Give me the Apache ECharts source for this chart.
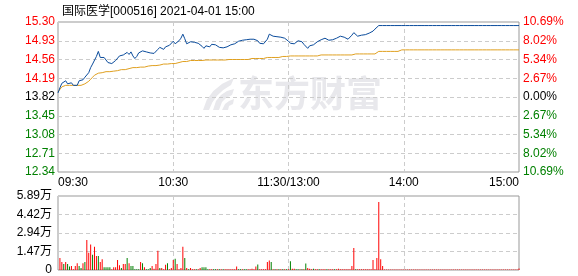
<!DOCTYPE html>
<html><head><meta charset="utf-8">
<script src="https://cdn.jsdelivr.net/npm/echarts@6/dist/echarts.min.js"></script>
<style>html,body{margin:0;padding:0;background:#fff}#c{width:578px;height:276px}</style>
</head><body><div id="c"></div>
<script>
const titleText = '国际医学[000516] 2021-04-01 15:00';
const baseClose = 13.82;
const timeTickLabels = ['09:30', '10:30', '11:30/13:00', '14:00', '15:00'];
const priceTickLabels = ['12.34', '12.71', '13.08', '13.45', '13.82', '14.19', '14.56', '14.93', '15.30'];
const pctTickLabels = ['10.69%', '8.02%', '5.34%', '2.67%', '0.00%', '2.67%', '5.34%', '8.02%', '10.69%'];
const volTickLabels = ['0', '1.47万', '2.94万', '4.42万', '5.89万'];

const price = [
13.90,14.00,14.09,14.10,14.14,14.08,14.10,14.10,14.05,14.04,
14.05,14.14,14.11,14.16,14.21,14.18,14.30,14.40,14.47,14.50,
14.62,14.72,14.60,14.58,14.60,14.55,14.50,14.49,14.48,14.48,
14.54,14.55,14.63,14.65,14.65,14.67,14.70,14.66,14.71,14.63,
14.58,14.62,14.69,14.68,14.73,14.70,14.71,14.70,14.69,14.67,
14.68,14.69,14.76,14.80,14.80,14.76,14.81,14.81,14.84,14.87,
14.92,14.87,14.89,14.93,14.98,15.06,14.97,14.87,14.85,14.91,
14.93,14.90,14.90,14.88,14.85,14.82,14.78,14.83,14.83,14.81,
14.86,14.87,14.85,14.82,14.80,14.78,14.79,14.80,14.81,14.83,
14.85,14.85,14.87,14.88,14.92,14.91,14.94,14.96,14.95,14.96,
14.96,14.96,14.96,14.96,14.93,14.88,14.87,14.87,14.90,14.96,
15.06,15.04,15.02,15.02,15.01,15.01,15.00,15.00,14.98,14.96,
14.92,14.88,14.91,14.87,14.89,14.93,14.93,14.91,14.86,14.83,
14.78,14.83,14.85,14.85,14.87,14.91,14.93,14.95,14.98,14.98,
14.97,14.94,14.93,14.95,14.98,14.98,15.00,15.02,15.01,15.00,
14.98,14.96,14.98,15.04,15.09,15.06,15.02,15.02,15.04,15.05,
15.05,15.06,15.08,15.11,15.12,15.16,15.18,15.23,15.23,15.23,
15.23,15.23,15.23,15.23,15.23,15.23,15.23,15.23,15.23,15.23,
15.23,15.23,15.23,15.23,15.23,15.23,15.23,15.23,15.23,15.23,
15.23,15.23,15.23,15.23,15.23,15.23,15.23,15.23,15.23,15.23,
15.23,15.23,15.23,15.23,15.23,15.23,15.23,15.23,15.23,15.23,
15.23,15.23,15.23,15.23,15.23,15.23,15.23,15.23,15.23,15.23,
15.23,15.23,15.23,15.23,15.23,15.23,15.23,15.23,15.23,15.23,
15.23,15.23,15.23,15.23,15.23,15.23,15.23,15.23,15.23,15.23,
15.23
];

const avgPrice = [
13.92,13.97,14.02,14.04,14.05,14.05,14.05,14.05,14.05,14.05,
14.05,14.05,14.05,14.07,14.08,14.10,14.13,14.17,14.21,14.25,
14.27,14.29,14.30,14.30,14.31,14.32,14.32,14.32,14.32,14.33,
14.34,14.34,14.34,14.36,14.36,14.36,14.38,14.38,14.38,14.40,
14.40,14.40,14.41,14.41,14.41,14.41,14.43,14.43,14.43,14.44,
14.44,14.44,14.45,14.45,14.45,14.47,14.47,14.47,14.48,14.48,
14.48,14.48,14.50,14.50,14.50,14.52,14.52,14.52,14.52,14.54,
14.54,14.54,14.54,14.54,14.54,14.54,14.55,14.55,14.55,14.55,
14.55,14.55,14.55,14.55,14.55,14.55,14.55,14.55,14.55,14.56,
14.56,14.56,14.56,14.56,14.56,14.56,14.56,14.56,14.56,14.56,
14.58,14.58,14.58,14.58,14.58,14.58,14.58,14.58,14.58,14.60,
14.60,14.60,14.60,14.60,14.60,14.60,14.62,14.62,14.62,14.62,
14.62,14.63,14.63,14.63,14.63,14.63,14.63,14.63,14.63,14.63,
14.63,14.63,14.63,14.63,14.63,14.63,14.65,14.65,14.65,14.65,
14.65,14.65,14.65,14.65,14.65,14.65,14.65,14.65,14.65,14.65,
14.65,14.65,14.65,14.65,14.67,14.67,14.67,14.67,14.67,14.67,
14.67,14.67,14.67,14.67,14.67,14.67,14.67,14.72,14.72,14.72,
14.72,14.72,14.72,14.72,14.72,14.72,14.72,14.72,14.72,14.75,
14.75,14.75,14.75,14.75,14.75,14.75,14.75,14.75,14.75,14.75,
14.75,14.75,14.75,14.75,14.75,14.75,14.75,14.75,14.75,14.75,
14.75,14.75,14.75,14.75,14.75,14.75,14.75,14.75,14.75,14.75,
14.75,14.75,14.75,14.75,14.75,14.75,14.75,14.75,14.75,14.75,
14.75,14.75,14.75,14.75,14.75,14.75,14.75,14.75,14.75,14.75,
14.75,14.75,14.75,14.75,14.75,14.75,14.75,14.75,14.75,14.75,
14.75
];

// volume in 万
const volume = [
0,0.96,0.64,0.48,0.64,0.48,0.27,0.32,0.05,0.32,
0.53,0.32,0.16,0.53,0.64,2.39,1.38,2.02,1.22,1.86,
1.11,1.11,0.64,0.85,0.21,0.21,0.21,0.21,0.05,0.21,
0.21,0.80,0.37,0.16,0.48,0.48,0.96,0.53,0.32,0.32,
0.05,0.05,0.05,0.64,0.53,0.21,0.05,0.05,0.16,0.32,
0.10,0.48,1.54,0.16,0.16,0.05,0.42,0.53,0.05,0.16,
0.80,0.90,0.48,0.05,0.16,1.86,0.96,0.16,0.05,0.16,
0.05,0.05,0.05,0.05,0.16,0.21,0.21,0.21,0.05,0.05,
0.05,0.05,0.05,0.05,0.05,0.05,0.05,0.05,0.05,0.05,
0.05,0.05,0.05,0.27,0.05,0.05,0.05,0.05,0.05,0.05,
0.05,0.10,0.05,0.27,0.43,0.05,0.05,0.05,0.05,0.64,
0.75,0.64,0.05,0.05,0.05,0.05,0.05,0.05,0.05,0.05,
0.05,0.70,0.10,0.10,0.05,0.05,0.05,0.05,0.05,0.52,
0.16,0.10,0.05,0.10,0.05,0.05,0.05,0.05,0.05,0.05,
0.05,0.05,0.05,0.05,0.05,0.05,0.10,0.05,0.05,0.05,
0.05,0.05,0.05,0.32,1.75,0.05,0.05,0.05,0.05,0.05,
0.05,0.05,0.05,0.05,0.80,0.05,0.95,5.41,0.85,0.32,
0.03,0.03,0.03,0.03,0.03,0.03,0.03,0.03,0.03,0.03,
0.03,0.03,0.03,0.03,0.03,0.03,0.03,0.03,0.03,0.03,
0.03,0.03,0.03,0.03,0.03,0.03,0.03,0.03,0.03,0.03,
0.03,0.03,0.03,0.03,0.03,0.03,0.03,0.03,0.03,0.03,
0.03,0.03,0.03,0.03,0.03,0.03,0.03,0.03,0.03,0.03,
0.03,0.03,0.03,0.03,0.03,0.03,0.03,0.03,0.03,0.03,
0.03,0.03,0.03,0.03,0.03,0.03,0.03,0.03,0.03,0.03,
0.11
];
// 1 = up (red), -1 = down (green)
const volDir = [
1,1,1,-1,1,-1,-1,1,1,1,
1,-1,-1,1,-1,1,1,1,-1,1,
1,-1,1,1,-1,-1,-1,-1,1,1,
1,1,1,-1,1,1,-1,1,-1,-1,
-1,-1,-1,1,-1,1,-1,-1,-1,1,
1,1,1,-1,1,1,1,-1,1,1,
1,-1,1,1,1,1,-1,1,-1,1,
1,1,-1,1,1,-1,-1,-1,-1,1,
1,-1,-1,1,-1,1,-1,1,1,1,
1,1,1,1,-1,-1,1,-1,-1,1,
1,1,1,1,-1,1,1,1,1,1,
1,-1,1,-1,1,-1,1,-1,1,-1,
1,-1,1,1,-1,-1,1,-1,1,-1,
1,1,1,-1,1,1,-1,1,1,1,
-1,1,1,1,-1,1,1,1,1,1,
1,1,1,1,1,-1,1,1,1,1,
1,1,1,1,1,1,1,1,1,1,
1,1,1,1,1,1,1,1,1,1,
1,1,1,1,1,1,1,1,1,1,
1,1,1,1,1,1,1,1,1,1,
1,1,1,1,1,1,1,1,1,1,
1,1,1,1,1,1,1,1,1,1,
1,1,1,1,1,1,1,1,1,1,
1,1,1,1,1,1,1,1,1,1,
1
];

// time categories
const times = [];
function pad(n){return (n<10?'0':'')+n;}
for (let i = 0; i <= 240; i++) {
  let m = i <= 120 ? 9*60+30+i : 13*60+(i-120);
  times.push(pad(Math.floor(m/60)) + ':' + pad(m%60));
}
const tickIdx = [0, 60, 120, 180, 240];

const RED = '#ff0000', GREEN = '#008000';
const FONT = '"Liberation Sans", Arial, "Noto Sans CJK SC", sans-serif';
const step = 0.37, half = 1.48;
const volStep = 1.4725;
function idxOf(v){ return Math.round((parseFloat(v) + half) / step); }
function colorByIdx(idx){ return idx > 4 ? RED : (idx < 4 ? GREEN : '#000'); }
const WM = '#e8e8ec';

const chart = echarts.init(document.getElementById('c'), null, {renderer: 'canvas'});
chart.setOption({
  animation: false,
  backgroundColor: '#fff',
  textStyle: {fontFamily: FONT},
  title: {
    text: titleText, left: 57, top: 1,
    textStyle: {fontSize: 12, fontWeight: 'normal', color: '#000', fontFamily: FONT}
  },
  graphic: [
    {
      type: 'text', left: 238, top: 75, z: -10, silent: true,
      style: {text: '东方财富', fill: WM, font: 'bold 36px "Noto Sans CJK SC"'}
    },
    {
      type: 'polygon', z: -10, silent: true,
      shape: {points: [[203,110],[206.8,99.8],[213.3,91],[222.3,83.8],[234,78],[231,85],[223.2,89.9],[217,95.8],[212.3,102.4],[209,110]]},
      style: {fill: WM}
    },
    {
      type: 'polygon', z: -10, silent: true,
      shape: {points: [[213,110],[216,101],[221,95],[227,91],[234,89],[232,95],[226,98],[222,102],[219,110]]},
      style: {fill: WM}
    },
    {
      type: 'polygon', z: -10, silent: true,
      shape: {points: [[222,110],[225,104],[229,101],[234,99],[233,104],[229,106],[228,110]]},
      style: {fill: WM}
    }
  ],
  grid: [
    {left: 58, right: 59, top: 22, height: 150, show: true, borderColor: '#999', borderWidth: 1, backgroundColor: 'transparent'},
    {left: 58, right: 59, top: 196, height: 74, show: true, borderColor: '#999', borderWidth: 1, backgroundColor: 'transparent'}
  ],
  xAxis: [
    {
      type: 'category', gridIndex: 0, data: times, boundaryGap: false,
      axisLine: {show: false}, axisTick: {show: false},
      axisLabel: {
        interval: (i) => tickIdx.indexOf(i) >= 0,
        formatter: (v, i) => timeTickLabels[tickIdx.indexOf(i)] || '',
        color: '#000', fontSize: 12, margin: 5,
        alignMinLabel: 'left', alignMaxLabel: 'right'
      },
      splitLine: {show: true, interval: (i) => i % 60 === 0 && i > 0 && i < 240,
        lineStyle: {color: '#ccc', type: [4, 3]}}
    },
    {
      type: 'category', gridIndex: 1, data: times, boundaryGap: false,
      axisLine: {show: false}, axisTick: {show: false}, axisLabel: {show: false},
      splitLine: {show: true, interval: (i) => i % 60 === 0 && i > 0 && i < 240,
        lineStyle: {color: '#ccc', type: [4, 3]}}
    }
  ],
  yAxis: [
    {
      type: 'value', gridIndex: 0, min: -half, max: half, interval: step,
      axisLine: {show: false}, axisTick: {show: false},
      axisLabel: {
        fontSize: 12, margin: 3,
        formatter: (v) => priceTickLabels[idxOf(v)],
        color: (v) => colorByIdx(idxOf(v))
      },
      splitLine: {show: true, lineStyle: {color: '#ccc', type: [4, 3]}}
    },
    {
      type: 'value', gridIndex: 0, position: 'right', min: -half, max: half, interval: step,
      axisLine: {show: false}, axisTick: {show: false},
      axisLabel: {
        fontSize: 12, margin: 4,
        formatter: (v) => pctTickLabels[8 - idxOf(v)],
        color: (v) => colorByIdx(idxOf(v))
      },
      splitLine: {show: false}
    },
    {
      type: 'value', gridIndex: 1, min: 0, max: 5.89, interval: volStep,
      axisLine: {show: false}, axisTick: {show: false},
      axisLabel: {
        fontSize: 12, margin: 6, color: '#000',
        formatter: (v) => volTickLabels[Math.round(v / volStep)]
      },
      splitLine: {show: true, lineStyle: {color: '#ccc', type: [4, 3]}}
    }
  ],
  series: [
    {
      name: '价格', type: 'line', xAxisIndex: 0, yAxisIndex: 0,
      data: price.map(p => +(p - baseClose).toFixed(2)),
      showSymbol: false, symbol: 'none', lineStyle: {color: '#0b4c9c', width: 1}, z: 3
    },
    {
      name: '均价', type: 'line', xAxisIndex: 0, yAxisIndex: 0,
      data: avgPrice.map(p => +(p - baseClose).toFixed(2)),
      showSymbol: false, symbol: 'none', lineStyle: {color: '#e0a020', width: 1}, z: 2
    },
    {
      name: '成交量', type: 'bar', xAxisIndex: 1, yAxisIndex: 2, barWidth: 1,
      data: volume.map((v, i) => ({value: v, itemStyle: {color: volDir[i] > 0 ? RED : GREEN}}))
    }
  ]
});
</script>
</body></html>
